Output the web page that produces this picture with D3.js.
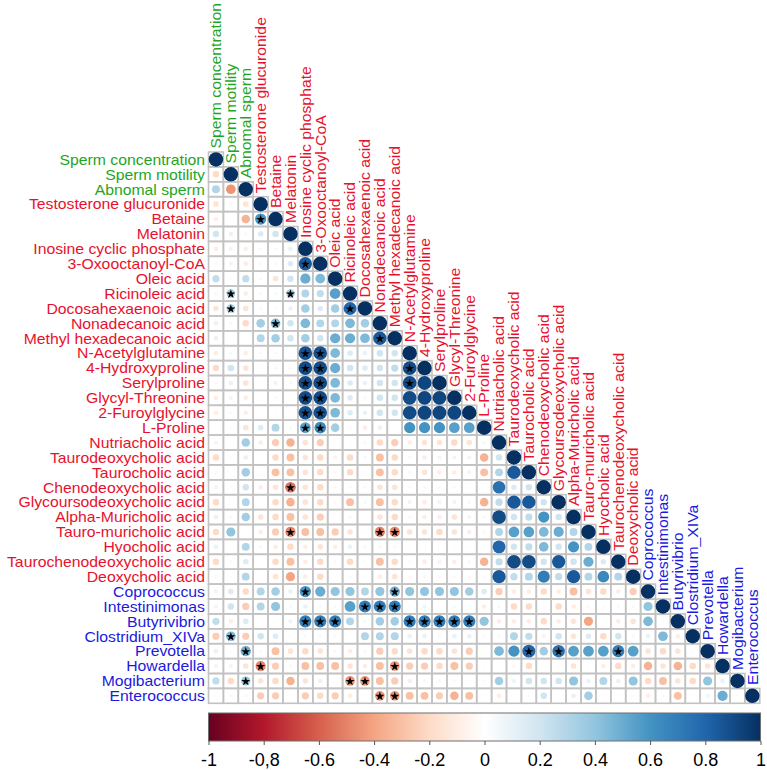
<!DOCTYPE html>
<html><head><meta charset="utf-8">
<script src="https://cdn.jsdelivr.net/npm/d3@7"></script>
<style>
body{margin:0;background:#ffffff}
text{font-family:"Liberation Sans",Arial,sans-serif}
</style>
</head><body>
<svg id="chart" width="767" height="770"></svg>
<script>
const variables = ["Sperm concentration","Sperm motility","Abnomal sperm","Testosterone glucuronide","Betaine","Melatonin","Inosine cyclic phosphate","3-Oxooctanoyl-CoA","Oleic acid","Ricinoleic acid","Docosahexaenoic acid","Nonadecanoic acid","Methyl hexadecanoic acid","N-Acetylglutamine","4-Hydroxyproline","Serylproline","Glycyl-Threonine","2-Furoylglycine","L-Proline","Nutriacholic acid","Taurodeoxycholic acid","Taurocholic acid","Chenodeoxycholic acid","Glycoursodeoxycholic acid","Alpha-Muricholic acid","Tauro-muricholic acid","Hyocholic acid","Taurochenodeoxycholic acid","Deoxycholic acid","Coprococcus","Intestinimonas","Butyrivibrio","Clostridium_XIVa","Prevotella","Howardella","Mogibacterium","Enterococcus"];
const groups = ["sperm","sperm","sperm"].concat(Array(26).fill("metabolite"), Array(8).fill("bacteria"));
const groupColors = {sperm:"#1fa51f", metabolite:"#e8112d", bacteria:"#1a1ae0"};

// lower triangle correlations: row i holds values for columns 0..i-1
const corrRows = [
[],
[-0.2],
[0.3,-0.45],
[-0.15,0.05,-0.15],
[-0.1,0.02,-0.35,0.6],
[0.2,0.1,0.05,0.15,0.2],
[-0.1,0.08,-0.1,0.05,0.05,0.1],
[-0.05,0.08,-0.1,0.05,0.05,0.15,0.85],
[0.25,0.03,0.25,0.05,-0.15,0.2,0.5,0.45],
[0.05,0.35,-0.1,0.05,0.05,0.35,0.3,0.25,0.55],
[-0.15,0.35,-0.15,0.05,0.03,0.1,0.35,0.15,0.35,0.8],
[0.1,-0.05,-0.2,0.35,0.45,0.2,0.45,0.3,0.3,0.45,0.35],
[0.1,0.02,0.02,0.3,0.35,0.2,0.35,0.2,0.5,0.5,0.45,0.85],
[-0.1,0.05,-0.1,-0.05,0.05,0.03,0.88,0.88,0.45,0.15,0.1,0.2,0.2],
[-0.2,0.2,-0.15,0.03,0.05,0.05,0.9,0.9,0.5,0.2,0.15,0.2,0.25,0.9],
[-0.05,0.1,-0.15,0.02,0.08,0.05,0.9,0.9,0.45,0.15,0.1,0.2,0.2,0.9,0.92],
[-0.1,0.08,-0.1,0.02,0.05,0.02,0.9,0.9,0.45,0.15,0.05,0.2,0.2,0.9,0.92,0.92],
[-0.1,0.05,-0.1,0.02,0.03,0.02,0.88,0.88,0.45,0.15,0.1,0.2,0.2,0.9,0.92,0.92,0.92],
[0.03,0.03,-0.15,0.15,0.3,0.05,0.55,0.65,0.35,0.05,-0.1,0.1,0.0,0.6,0.6,0.6,0.55,0.55],
[0.08,0.03,0.35,-0.1,-0.25,-0.35,-0.15,-0.25,-0.03,0.03,0.05,-0.2,-0.25,-0.1,-0.15,-0.15,-0.2,-0.15,0.05],
[-0.2,0.03,0.1,0.0,-0.2,-0.3,-0.15,-0.2,-0.08,-0.2,0.05,-0.3,-0.2,-0.05,-0.1,-0.08,-0.08,-0.08,-0.35,0.2],
[-0.05,0.0,0.35,0.0,-0.3,-0.3,-0.15,-0.2,-0.05,-0.2,0.03,-0.3,-0.2,-0.05,-0.15,-0.1,-0.1,-0.08,-0.3,0.3,0.85],
[-0.08,0.03,0.2,-0.1,-0.15,-0.55,-0.15,-0.2,-0.05,0.05,0.05,-0.15,-0.15,-0.05,-0.05,-0.05,-0.05,-0.03,0.0,0.75,0.15,0.2],
[-0.2,0.0,0.3,0.0,-0.2,-0.35,-0.15,-0.2,-0.05,-0.3,0.05,-0.3,-0.2,-0.08,-0.1,-0.08,-0.08,-0.05,-0.35,0.25,0.85,0.85,0.2],
[0.1,-0.05,0.35,-0.15,-0.2,-0.3,-0.15,-0.25,-0.03,0.05,0.03,-0.15,-0.2,-0.05,-0.1,-0.1,-0.15,-0.08,0.05,0.9,0.2,0.25,0.6,0.2],
[-0.2,0.4,0.0,-0.1,-0.25,-0.5,-0.3,-0.3,-0.25,-0.15,0.03,-0.5,-0.5,-0.15,-0.15,-0.2,-0.15,-0.1,-0.05,0.3,0.55,0.55,0.45,0.5,0.3],
[0.1,0.03,0.3,-0.05,-0.1,-0.2,-0.1,-0.15,-0.1,0.1,0.05,-0.05,-0.05,-0.03,0.03,-0.03,-0.03,0.03,0.03,0.8,0.2,0.25,0.45,0.2,0.6,0.3],
[-0.2,0.05,0.15,0.0,-0.2,-0.3,-0.1,-0.2,-0.05,-0.2,0.03,-0.3,-0.2,-0.05,-0.1,-0.08,-0.1,-0.05,-0.35,0.25,0.9,0.9,0.2,0.85,0.2,0.5,0.15],
[0.05,0.03,0.3,0.0,-0.15,-0.4,-0.1,-0.2,0.0,0.05,0.03,-0.1,-0.15,-0.05,-0.05,-0.05,-0.05,-0.05,0.03,0.85,0.25,0.3,0.7,0.25,0.85,0.3,0.65,0.3],
[-0.08,0.15,-0.2,0.3,0.35,0.1,0.6,0.5,0.4,0.4,0.3,0.4,0.5,0.4,0.4,0.4,0.4,0.35,0.15,-0.25,-0.1,-0.1,-0.2,-0.1,-0.3,-0.15,-0.2,-0.1,-0.25],
[-0.08,0.2,-0.25,0.3,0.4,0.05,0.1,0.05,0.05,0.55,0.7,0.7,0.7,0.03,0.08,0.0,0.05,0.03,-0.1,0.05,-0.2,-0.2,0.03,-0.2,-0.1,-0.05,0.03,-0.05,0.05,0.4],
[0.25,-0.1,0.15,0.0,0.0,0.08,0.7,0.7,0.7,0.3,0.05,0.35,0.35,0.7,0.7,0.7,0.7,0.7,0.4,-0.1,-0.1,-0.1,-0.2,-0.1,-0.15,-0.4,-0.03,-0.1,-0.15,0.45,0.03],
[-0.25,0.45,-0.25,0.2,0.15,0.03,0.05,0.05,-0.05,0.0,0.3,0.3,0.3,0.1,0.1,0.05,0.1,0.1,0.05,0.05,0.3,0.25,-0.08,0.2,-0.15,0.15,-0.2,0.2,-0.05,0.1,0.45,-0.1],
[0.1,0.03,0.5,-0.05,-0.3,-0.15,-0.2,-0.15,0.05,-0.1,-0.05,-0.25,-0.2,-0.15,-0.2,-0.2,-0.15,-0.25,-0.03,0.45,0.6,0.8,0.35,0.75,0.55,0.55,0.55,0.7,0.55,-0.15,-0.2,-0.15,0.03],
[-0.08,0.08,-0.15,-0.5,-0.25,-0.05,-0.3,-0.3,-0.3,-0.15,-0.1,-0.3,-0.45,-0.25,-0.25,-0.2,-0.3,-0.25,-0.03,0.0,-0.05,-0.2,0.0,0.03,-0.15,0.03,-0.1,-0.2,-0.1,-0.35,-0.15,-0.35,-0.2,-0.15],
[0.25,-0.2,0.4,-0.15,-0.2,-0.35,-0.15,-0.1,-0.03,-0.45,-0.45,-0.3,-0.25,-0.1,-0.05,-0.05,-0.05,-0.03,0.03,0.35,0.08,0.2,0.2,0.2,0.4,0.1,0.3,0.1,0.4,-0.2,-0.3,-0.15,-0.2,0.4,0.1],
[0.03,0.05,-0.05,-0.25,-0.25,0.03,-0.25,-0.2,-0.25,-0.1,0.03,-0.45,-0.45,-0.3,-0.3,-0.25,-0.35,-0.3,0.03,-0.1,0.0,0.03,0.2,0.0,0.1,0.35,0.03,0.03,0.03,-0.1,0.03,-0.3,0.03,0.08,0.5,0.03]
];

// significant cells [row, col]
const sigCells = [[4,3],[7,6],[9,1],[9,5],[10,1],[10,9],[11,4],[12,11],
[13,6],[13,7],[14,6],[14,7],[14,13],[15,6],[15,7],[15,13],[16,6],[16,7],[17,6],[17,7],[18,6],[18,7],
[22,5],[25,5],[25,11],[25,12],[29,6],[29,12],[30,10],[30,11],[30,12],
[31,6],[31,7],[31,8],[31,13],[31,14],[31,15],[31,16],[31,17],
[32,1],[33,2],[33,21],[33,23],[33,27],[34,3],[34,12],[35,2],[35,9],[35,10],[36,11],[36,12]];

const paletteStops = ["#67001F","#B2182B","#D6604D","#F4A582","#FDDBC7","#FFFFFF","#D1E5F0","#92C5DE","#4393C3","#2166AC","#053061"];
const tickValues = [-1,-0.8,-0.6,-0.4,-0.2,0,0.2,0.4,0.6,0.8,1];
const tickLabels = ["-1","-0,8","-0.6","-0.4","-0.2","0","0.2","0.4","0.6","0.8","1"];

const n = variables.length;
const svg = d3.select("#chart");
const gridLeft = 208.5, gridTop = 152, cell = 14.9;
const x = d3.scaleBand().domain(d3.range(n)).range([gridLeft, gridLeft + cell*n]);
const y = d3.scaleBand().domain(d3.range(n)).range([gridTop, gridTop + cell*n]);
const bw = x.bandwidth();
const color = d3.scaleLinear().domain(d3.range(11).map(i => -1 + i*0.2)).range(paletteStops).clamp(true);
const rScale = d3.scaleSqrt().domain([0,1]).range([0, 0.485*bw]);
const labelSize = 14.6, labelStretch = 1.08;

const cells = [];
for (let i = 0; i < n; i++) {
  for (let j = 0; j <= i; j++) {
    const v = j === i ? 1 : (corrRows[i][j] ?? 0);
    cells.push({i, j, v});
  }
}

// grid
svg.append("g").selectAll("rect").data(cells).join("rect")
  .attr("x", d => x(d.j)).attr("y", d => y(d.i))
  .attr("width", bw).attr("height", bw)
  .attr("fill", "none").attr("stroke", "#c2c2c2").attr("stroke-width", 1.6);

// circles
svg.append("g").selectAll("circle").data(cells).join("circle")
  .attr("cx", d => x(d.j) + bw/2).attr("cy", d => y(d.i) + bw/2)
  .attr("r", d => rScale(Math.abs(d.v)))
  .attr("fill", d => color(d.v));

// significance stars (drawn as symbols)
const starPath = d3.symbol().type(d3.symbolStar).size(26)();
svg.append("g").selectAll("path").data(sigCells).join("path")
  .attr("transform", d => `translate(${x(d[1]) + bw/2},${y(d[0]) + bw/2 + 0.5})`)
  .attr("d", starPath).attr("fill", "#000");

// row labels
svg.append("g").selectAll("text").data(variables).join("text")
  .attr("transform", (d,i) => `translate(${gridLeft - 3.5},${y(i) + bw/2}) scale(${labelStretch},1)`)
  .attr("text-anchor", "end").attr("dominant-baseline", "central")
  .attr("font-size", labelSize)
  .attr("fill", (d,i) => groupColors[groups[i]]).text(d => d);

// column labels
svg.append("g").selectAll("text").data(variables).join("text")
  .attr("transform", (d,i) => `translate(${x(i) + bw/2},${y(i) - 3.5}) rotate(-90) scale(${labelStretch},1)`)
  .attr("text-anchor", "start").attr("dominant-baseline", "central")
  .attr("font-size", labelSize)
  .attr("fill", (d,i) => groupColors[groups[i]]).text(d => d);

// colour bar
const cbLeft = 208.5, cbRight = 760.5, cbTop = 713, cbBottom = 741;
const defs = svg.append("defs");
const grad = defs.append("linearGradient").attr("id", "cbgrad").attr("x1", "0%").attr("x2", "100%");
grad.selectAll("stop").data(paletteStops).join("stop")
  .attr("offset", (d,i) => (i*10) + "%").attr("stop-color", d => d);
svg.append("rect").attr("x", cbLeft).attr("y", cbTop)
  .attr("width", cbRight - cbLeft).attr("height", cbBottom - cbTop)
  .attr("fill", "url(#cbgrad)").attr("stroke", "#6e6e6e").attr("stroke-width", 1);
const cbScale = d3.scaleLinear().domain([-1,1]).range([cbLeft, cbRight]);
const axis = d3.axisBottom(cbScale).tickValues(tickValues)
  .tickFormat((d,i) => tickLabels[i]).tickSize(4).tickPadding(8);
const ax = svg.append("g").attr("transform", `translate(0,${cbBottom})`).call(axis);
ax.select(".domain").remove();
ax.selectAll(".tick line").attr("stroke", "#555");
ax.selectAll(".tick text").attr("font-size", 18).attr("fill", "#000")
  .attr("font-family", "\"Liberation Sans\",Arial,sans-serif");
</script>
</body></html>
